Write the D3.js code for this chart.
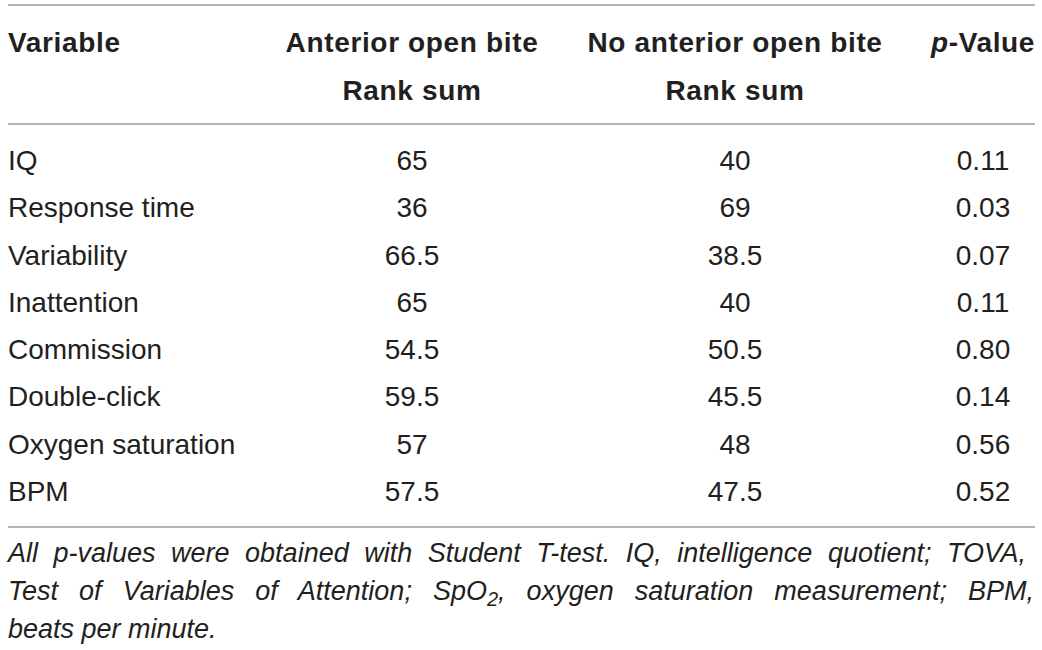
<!DOCTYPE html>
<meta charset="utf-8">
<script src="https://d3js.org/d3.v7.min.js"></script>
<style>
  body { margin: 0; background: #fff; }
  text { font-family: "Liberation Sans", Arial, sans-serif; fill: #231f20; }
</style>
<div id="my_table"></div>
<script>
// table contents
var variables = ["IQ", "Response time", "Variability", "Inattention",
                 "Commission", "Double-click", "Oxygen saturation", "BPM"];
var rankOpenBite = ["65", "36", "66.5", "65", "54.5", "59.5", "57", "57.5"];
var rankNoOpenBite = ["40", "69", "38.5", "40", "50.5", "45.5", "48", "47.5"];
var pValues = ["0.11", "0.03", "0.07", "0.11", "0.80", "0.14", "0.56", "0.52"];

var width = 1042, height = 650;

var svg = d3.select("#my_table")
  .append("svg")
    .attr("width", width)
    .attr("height", height);

// row baselines
var y = d3.scalePoint()
  .domain(variables)
  .range([170, 501]);

// column anchors
var cols = ["var", "aob", "noaob", "p"];
var x = d3.scaleOrdinal()
  .domain(cols)
  .range([8, 412, 735, 983]);

// horizontal rules
[5, 124, 527].forEach(function(ry) {
  svg.append("line")
    .attr("x1", 8).attr("x2", 1035)
    .attr("y1", ry).attr("y2", ry)
    .attr("stroke", "#9a9a9a")
    .attr("stroke-width", 1.6);
});

// header
var head = svg.append("g")
  .style("font-weight", "bold")
  .style("font-size", "28px")
  .style("letter-spacing", "0.65px");

head.append("text").attr("x", x("var")).attr("y", 52).text("Variable");
head.append("text").attr("x", x("aob")).attr("y", 52)
  .attr("text-anchor", "middle").text("Anterior open bite");
head.append("text").attr("x", x("aob")).attr("y", 100)
  .attr("text-anchor", "middle").text("Rank sum");
head.append("text").attr("x", x("noaob")).attr("y", 52)
  .attr("text-anchor", "middle").text("No anterior open bite");
head.append("text").attr("x", x("noaob")).attr("y", 100)
  .attr("text-anchor", "middle").text("Rank sum");
var ph = head.append("text").attr("x", x("p")).attr("y", 52)
  .attr("text-anchor", "middle");
ph.append("tspan").style("font-style", "italic").text("p");
ph.append("tspan").text("-Value");

// body rows
var body = svg.append("g").style("font-size", "28px");

body.selectAll(".var")
  .data(variables)
  .enter().append("text")
    .attr("x", x("var"))
    .attr("y", function(d) { return y(d); })
    .text(function(d) { return d; });

[["aob", rankOpenBite], ["noaob", rankNoOpenBite], ["p", pValues]].forEach(function(c) {
  body.selectAll(".c-" + c[0])
    .data(c[1])
    .enter().append("text")
      .attr("x", x(c[0]))
      .attr("y", function(d, i) { return y(variables[i]); })
      .attr("text-anchor", "middle")
      .text(function(d) { return d; });
});

// footnote, justified line by line
var note = svg.append("g")
  .style("font-size", "27px")
  .style("font-style", "italic");

var noteLeft = 8, noteRight = 1034;

var l1 = note.append("text").attr("x", noteLeft).attr("y", 562)
  .text("All p-values were obtained with Student T-test. IQ, intelligence quotient; TOVA,");
var l2 = note.append("text").attr("x", noteLeft).attr("y", 600);
l2.append("tspan").text("Test of Variables of Attention; SpO");
l2.append("tspan").attr("dy", 6).style("font-size", "20px").text("2");
l2.append("tspan").attr("dy", -6).text(", oxygen saturation measurement; BPM,");
note.append("text").attr("x", noteLeft).attr("y", 638).text("beats per minute.");

[[l1, 11], [l2, 9]].forEach(function(p) {
  var t = p[0];
  var w = t.node().getComputedTextLength();
  t.style("word-spacing", ((noteRight - noteLeft - w) / p[1]) + "px");
});
</script>
